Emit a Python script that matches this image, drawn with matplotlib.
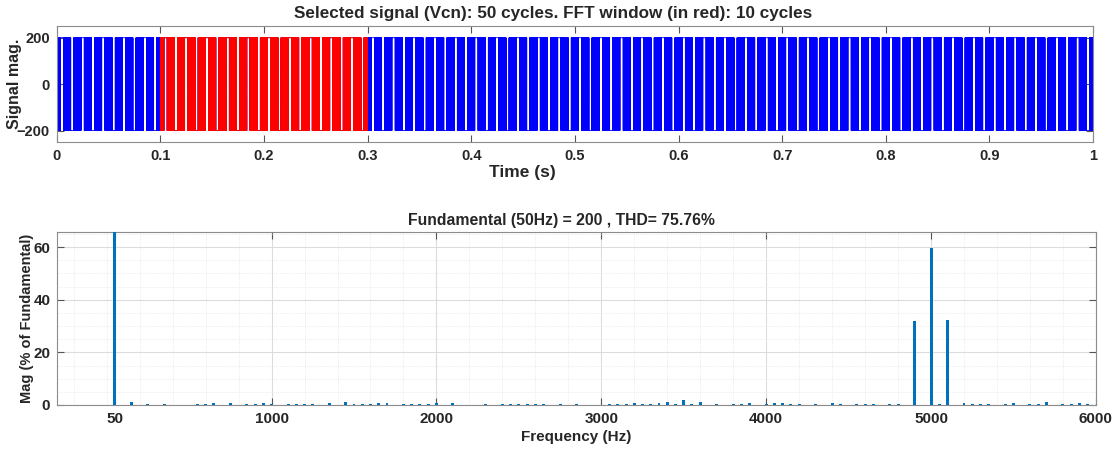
import matplotlib.pyplot as plt
from matplotlib.ticker import MultipleLocator
import numpy as np

plt.rcParams['font.family'] = ['Liberation Sans', 'DejaVu Sans']
plt.rcParams['font.weight'] = 'bold'
plt.rcParams['path.simplify'] = False
plt.rcParams['agg.path.chunksize'] = 20000

# PWM phase voltage (sine-triangle, bipolar)
f_fund = 50.0
f_carrier = 5000.0
v_dc = 200.0
m_index = 1.0
t_stop = 1.0
t_step = 1e-5
fft_window = (0.1, 0.3)

# FFT result, % of fundamental
harm_freq = [50, 150, 250, 350, 550, 600, 650, 750, 850, 900, 950, 1000,
             1100, 1150, 1200, 1250, 1350, 1450, 1500, 1550, 1600, 1650, 1700,
             1800, 1850, 1900, 1950, 2000, 2100, 2300, 2400, 2450, 2500, 2550,
             2600, 2650, 2750, 2850, 3000, 3050, 3100, 3150, 3200, 3250, 3300,
             3350, 3400, 3450, 3500, 3550, 3600, 3700, 3800, 3850, 3900, 4000,
             4050, 4100, 4150, 4200, 4300, 4400, 4450, 4550, 4600, 4650, 4750,
             4800, 4900, 4950, 5000, 5050, 5100, 5200, 5250, 5300, 5350, 5450,
             5500, 5600, 5650, 5700, 5800, 5850, 5900, 5950]
harm_mag = [100.0, 1.0, 0.5, 0.3, 0.4, 0.4, 0.8, 0.8, 0.5, 0.4, 0.9, 0.5,
            0.4, 0.5, 0.4, 0.5, 0.8, 1.2, 0.5, 0.3, 0.4, 0.8, 0.8,
            0.3, 0.3, 0.3, 0.3, 0.6, 0.8, 0.5, 0.5, 0.3, 0.3, 0.2,
            0.4, 0.5, 0.2, 0.4, 0.1, 0.3, 0.2, 0.4, 0.6, 0.3, 0.5,
            0.6, 1.0, 0.2, 2.0, 0.5, 1.1, 0.5, 0.4, 0.5, 0.9, 0.4,
            0.7, 0.9, 0.4, 0.4, 0.5, 0.9, 0.5, 0.3, 0.3, 0.2, 0.2,
            0.2, 32.0, 0.1, 59.8, 0.2, 32.3, 0.7, 0.3, 0.2, 0.2, 0.2,
            0.6, 0.4, 0.5, 1.0, 0.2, 0.4, 0.6, 0.3]

fund_mag = 200
thd = 75.76

t = np.arange(0, t_stop + t_step, t_step)
ref = m_index * np.sin(2 * np.pi * f_fund * t)
# carrier sampled at mid-step, so its peaks never reach +/-1
phase = (t + t_step / 2) * f_carrier % 1.0
tri = 2 * np.abs(2 * phase - 1) - 1
vcn = np.where(ref > tri, v_dc, -v_dc)

fig = plt.figure(figsize=(11.12, 4.5), dpi=100)
ax1 = fig.add_axes([0.051, 0.684, 0.932, 0.258])
ax2 = fig.add_axes([0.0515, 0.1, 0.934, 0.384])

ax1.plot(t, vcn, color='blue', lw=0.6)
sel = (t >= fft_window[0]) & (t <= fft_window[1])
ax1.plot(t[sel], vcn[sel], color='red', lw=0.6)
ax1.set_xlim(0, 1)
ax1.set_ylim(-250, 250)
ax1.set_xticks(np.arange(0, 1.01, 0.1))
ax1.set_xticklabels(['0', '0.1', '0.2', '0.3', '0.4', '0.5', '0.6', '0.7', '0.8', '0.9', '1'])
ax1.set_yticks([-200, 0, 200])
ax1.set_xlabel('Time (s)', fontsize=12.5, fontweight='bold', color='#262626')
ax1.xaxis.set_label_coords(0.449, -0.2)
ax1.set_ylabel('Signal mag.', fontsize=11.5, fontweight='bold', color='#262626')
ax1.yaxis.set_label_coords(-0.0335, 0.5)
ax1.text(0.479, 1.04, 'Selected signal (Vcn): 50 cycles. FFT window (in red): 10 cycles',
         transform=ax1.transAxes, ha='center', va='bottom',
         fontsize=12.3, fontweight='bold', color='#262626')

ax2.bar(harm_freq, harm_mag, width=18, color='#0072bd', zorder=3)
ax2.set_xlim(-300, 6000)
ax2.set_ylim(0, 65.7)
ax2.set_xticks([50, 1000, 2000, 3000, 4000, 5000, 6000])
ax2.set_yticks([0, 20, 40, 60])
ax2.xaxis.set_minor_locator(MultipleLocator(200))
ax2.yaxis.set_minor_locator(MultipleLocator(5))
ax2.grid(which='major', color='#dcdcdc', lw=0.8, zorder=0)
ax2.grid(which='minor', color='#e4e4e4', lw=0.6, ls=':', zorder=0)
ax2.set_xlabel('Frequency (Hz)', fontsize=11, fontweight='bold', color='#262626', labelpad=3)
ax2.set_ylabel('Mag (% of Fundamental)', fontsize=10.5, fontweight='bold', color='#262626')
ax2.yaxis.set_label_coords(-0.0224, 0.5)
ax2.text(0.485, 1.025, f'Fundamental (50Hz) = {fund_mag} , THD= {thd:.2f}%',
         transform=ax2.transAxes, ha='center', va='bottom',
         fontsize=11.3, fontweight='bold', color='#262626')

for ax, fs in ((ax1, 10.5), (ax2, 11)):
    for sp in ax.spines.values():
        sp.set_color('#8c8c8c')
        sp.set_linewidth(0.8)
    ax.tick_params(which='major', direction='in', length=5, width=0.8, color='#555555',
                   top=True, right=True, labelsize=fs, labelcolor='#262626', pad=5)
    ax.tick_params(which='minor', length=0, top=True, right=True)
    for lab in ax.get_xticklabels() + ax.get_yticklabels():
        lab.set_fontweight('bold')

fig.savefig('out.png', dpi=100)
